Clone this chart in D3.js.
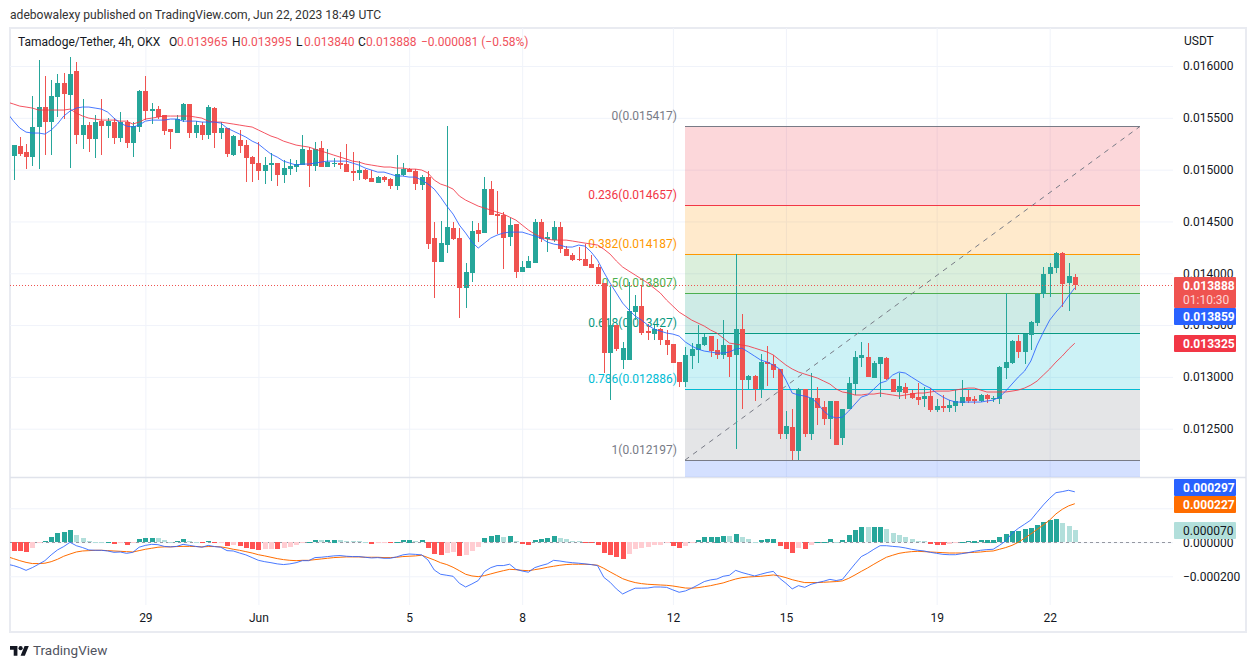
<!DOCTYPE html>
<html>
<head>
<meta charset="utf-8">
<script src="https://cdnjs.cloudflare.com/ajax/libs/d3/7.8.5/d3.min.js"></script>
<style>
  html, body { margin: 0; background: #fff; }
  svg text { font-family: Roboto, "Liberation Sans", sans-serif; fill: #131722; }
</style>
</head>
<body>
<div id="app"></div>
<script>
// prices and macd are in millionths of USDT (13888 = 0.013888)
const opens = [15131,15227,15169,15121,15411,15604,15459,15700,15835,15719,15951,15333,15430,15295,15468,15420,15459,15304,15459,15256,
  15411,15758,15565,15584,15526,15391,15353,15478,15633,15353,15430,15333,15594,15353,15401,15140,15285,15237,15121,15063,
  14986,15044,15063,14947,15005,15025,15044,15189,15034,15208,15025,15054,15063,15054,14986,14967,14996,14918,14870,14928,
  14909,14841,14947,15005,14986,14851,14928,14340,14108,14272,14436,14340,13857,14002,14417,14388,14812,14571,14561,14349,
  14475,14011,14050,14098,14494,14330,14320,14446,14233,14175,14137,14137,14089,14060,13905,13230,13500,13162,13162,13625,
  13683,13442,13413,13461,13355,13317,13143,12950,13201,13259,13307,13394,13259,13211,13307,13211,13461,12969,13008,12883,
  13143,13124,13076,12448,12516,12284,12883,12448,12796,12709,12593,12767,12410,12690,12931,13182,13191,12989,13124,13182,
  12979,12854,12902,12844,12805,12786,12815,12680,12718,12699,12718,12748,12805,12786,12767,12825,12786,12786,13085,13133,
  13346,13240,13404,13519,13799,13992,14050,14195,13905,13965];
const highs = [15237,15314,15247,15710,16057,15903,15864,15922,15932,16086,16038,15681,15459,15526,15681,15497,15497,15555,15478,15459,
  15768,15903,15642,15613,15526,15391,15526,15642,15633,15468,15459,15623,15604,15459,15401,15333,15382,15285,15131,15266,
  15121,15160,15063,15092,15102,15092,15333,15218,15266,15275,15198,15111,15169,15247,15169,15082,15005,14996,14938,14938,
  14918,15140,15063,15015,15005,14947,14986,14494,14504,15420,14494,14436,14098,14504,14484,14928,14890,14793,14590,14532,
  14475,14118,14166,14523,14523,14397,14504,14494,14262,14195,14253,14282,14175,14089,13905,13867,13500,13336,13915,13790,
  13886,13510,13500,13471,13452,13317,13143,13288,13326,13500,13413,13394,13365,13548,13307,14185,13606,13018,13018,13220,
  13297,13211,13076,12670,12690,12892,12883,13037,12902,12767,12767,12767,12690,12998,13249,13336,13326,13153,13191,13191,
  12979,13037,12940,12873,12940,12902,12892,12786,12825,12776,12873,12969,12873,12815,12834,12834,12815,13105,13809,13355,
  13404,13413,13539,13809,14060,14098,14204,14204,14098,13995];
const lows = [14899,15131,15005,15034,15005,15140,15140,15507,15488,15015,15247,15198,15169,15111,15140,15304,15247,15266,15208,15121,
  15362,15478,15440,15488,15333,15198,15353,15459,15304,15304,15285,15295,15208,15295,15121,15131,15160,14880,14880,14899,
  14861,14890,14841,14870,14947,14976,15044,14832,14986,15025,15025,15025,15005,14976,14890,14899,14899,14880,14870,14880,
  14812,14803,14938,14976,14803,14803,14233,13761,14108,14195,14320,13568,13664,13915,14301,14388,14561,14378,14040,14262,
  13954,14011,14050,14098,14301,14204,14301,14195,14166,14118,14118,14069,14050,13896,13037,12776,13249,13076,13162,13548,
  13404,13355,13355,13307,13211,13133,12902,12902,13076,13133,13297,13191,13172,13172,12998,12304,12690,12883,12767,12796,
  12911,12989,12400,12400,12198,12198,12419,12390,12535,12535,12400,12342,12342,12690,12825,13095,12998,12989,12805,12969,
  12854,12786,12786,12786,12728,12709,12661,12661,12661,12661,12661,12718,12748,12738,12757,12748,12757,12738,12979,13124,
  13182,13124,13259,13490,13761,13770,14002,13674,13635,13840];
const closes = [15237,15150,15121,15411,15604,15459,15710,15835,15729,15922,15333,15430,15295,15459,15420,15468,15304,15459,15256,15420,
  15758,15565,15584,15507,15372,15362,15488,15633,15353,15430,15333,15604,15353,15401,15150,15324,15227,15111,15054,14986,
  15044,15063,14947,15015,15034,15054,15198,15034,15198,15025,15073,15063,15044,14976,14967,14996,14909,14880,14928,14899,
  14841,14957,15005,14976,14861,14928,14282,14108,14291,14446,14330,13857,14011,14407,14378,14812,14561,14552,14340,14465,
  14011,14060,14118,14494,14330,14349,14446,14233,14166,14127,14127,14069,14050,13896,13230,13500,13268,13278,13635,13683,
  13423,13423,13461,13355,13307,13133,12950,13211,13268,13317,13384,13249,13211,13307,13191,13461,12969,13008,12883,13143,
  13124,13066,12448,12525,12284,12883,12448,12796,12699,12593,12767,12342,12690,12940,13191,13211,12998,13133,13191,12979,
  12854,12911,12844,12796,12776,12815,12680,12718,12699,12728,12767,12805,12767,12767,12825,12786,12796,13095,13143,13346,
  13240,13413,13529,13799,13992,14060,14195,13896,13973,13888];
// moving averages and macd start one candle before the first visible one
const maFast = [15546,15468,15401,15362,15353,15353,15343,15382,15440,15517,15565,15594,15604,15604,15594,15584,15555,15497,15449,15420,15411,
  15430,15468,15478,15478,15478,15488,15488,15468,15468,15468,15459,15459,15459,15449,15401,15372,15343,15314,15275,15247,
  15198,15150,15121,15082,15063,15044,15054,15054,15063,15073,15082,15082,15082,15082,15063,15044,15015,14996,14976,14976,
  14957,14938,14938,14928,14928,14899,14861,14812,14735,14648,14571,14465,14388,14301,14243,14291,14340,14368,14388,14397,
  14397,14397,14378,14359,14340,14301,14282,14272,14253,14253,14272,14262,14204,14127,14011,13905,13809,13712,13645,13587,
  13548,13500,13461,13442,13423,13413,13394,13336,13297,13268,13249,13240,13230,13230,13240,13268,13278,13240,13201,13162,
  13143,13114,13076,12969,12844,12825,12815,12796,12748,12670,12622,12603,12612,12670,12738,12805,12825,12883,12940,12960,
  13018,13047,13037,12998,12960,12921,12892,12844,12805,12776,12757,12757,12757,12757,12757,12767,12776,12805,12863,12931,
  12998,13056,13153,13307,13433,13548,13625,13693,13780,13859];
const maSlow = [15652,15633,15613,15604,15594,15575,15575,15575,15575,15575,15584,15546,15517,15497,15488,15478,15478,15478,15468,15468,15440,
  15459,15488,15497,15507,15517,15517,15517,15517,15517,15507,15497,15468,15459,15459,15449,15440,15430,15420,15411,15382,
  15353,15324,15304,15275,15256,15237,15227,15218,15198,15179,15160,15140,15121,15102,15082,15073,15054,15044,15034,15025,
  15025,15015,15015,15005,15005,14996,14967,14899,14861,14841,14812,14745,14706,14677,14648,14629,14610,14590,14571,14542,
  14513,14465,14417,14378,14349,14330,14320,14320,14320,14311,14301,14291,14282,14272,14233,14185,14118,14060,14021,13983,
  13944,13905,13857,13809,13741,13683,13625,13587,13548,13519,13490,13452,13423,13375,13326,13317,13307,13297,13278,13259,
  13240,13211,13162,13114,13076,13047,13027,13008,12989,12960,12931,12883,12854,12844,12825,12825,12834,12834,12844,12834,
  12825,12815,12825,12834,12844,12844,12854,12863,12863,12863,12873,12883,12892,12892,12873,12854,12854,12854,12854,12863,
  12873,12892,12921,12960,13018,13076,13143,13201,13268,13325];
const macdLine = [-129,-137,-149,-165,-149,-129,-108,-74,-45,-25,0,-20,-31,-45,-47,-47,-51,-59,-57,-65,-59,
  -29,-18,-12,-14,-24,-27,-24,-12,-18,-24,-29,-18,-25,-29,-49,-51,-63,-74,-90,-106,
  -114,-120,-127,-131,-127,-120,-108,-108,-90,-88,-84,-80,-78,-82,-84,-84,-88,-92,-90,-94,
  -94,-86,-74,-69,-71,-74,-104,-163,-188,-194,-200,-241,-263,-245,-225,-172,-149,-137,-137,-129,
  -159,-169,-176,-149,-137,-127,-106,-110,-116,-120,-123,-127,-131,-137,-206,-235,-274,-304,-286,-270,
  -270,-269,-263,-263,-265,-280,-294,-286,-270,-251,-231,-221,-216,-200,-194,-165,-178,-188,-198,-188,
  -178,-171,-212,-241,-274,-255,-265,-247,-237,-229,-218,-225,-218,-172,-127,-84,-65,-41,-20,-20,
  -24,-27,-33,-41,-47,-51,-59,-65,-71,-73,-73,-67,-61,-53,-47,-43,-41,-18,8,53,
  82,106,131,176,220,259,292,298,306,297];
const macdSignal = [-84,-96,-108,-118,-125,-125,-123,-114,-100,-82,-69,-57,-51,-49,-47,-47,-49,-51,-53,-55,-57,
  -49,-41,-35,-29,-27,-27,-25,-24,-24,-25,-27,-25,-25,-27,-33,-41,-47,-55,-63,-73,
  -80,-88,-96,-102,-106,-108,-106,-106,-102,-98,-94,-90,-88,-86,-86,-86,-88,-88,-88,-90,
  -90,-88,-84,-82,-80,-76,-90,-104,-120,-131,-147,-167,-188,-198,-202,-196,-186,-176,-167,-159,
  -161,-165,-167,-161,-155,-147,-141,-135,-131,-129,-129,-129,-131,-135,-153,-174,-194,-214,-227,-237,
  -243,-247,-249,-251,-253,-257,-263,-269,-270,-267,-261,-255,-247,-239,-227,-216,-208,-204,-202,-200,
  -196,-192,-198,-208,-220,-229,-237,-237,-237,-235,-233,-231,-227,-212,-192,-171,-151,-129,-108,-88,
  -76,-65,-59,-55,-53,-55,-57,-59,-61,-63,-63,-63,-61,-59,-57,-53,-51,-41,-31,-18,
  0,24,49,76,102,131,167,194,214,227];
const macdHist = [-51,-52,-57,-33,-2,8,31,53,61,73,43,25,8,3,2,4,-10,-4,-16,-4,
  20,25,26,25,14,2,8,20,8,3,-8,8,-4,-3,-22,-20,-23,-33,-40,-45,
  -44,-40,-41,-33,-27,-16,-1,2,14,13,14,15,13,8,7,6,2,-10,-4,-3,
  -8,2,14,15,8,13,-33,-68,-74,-62,-57,-80,-79,-50,-27,25,37,43,31,37,
  8,-10,-16,14,20,25,37,25,19,8,7,-3,-7,-16,-62,-74,-86,-98,-68,-40,
  -33,-27,-16,-15,-8,-22,-33,-22,-2,14,31,32,33,37,36,49,31,20,2,14,
  20,21,-22,-40,-62,-33,-40,-16,2,3,20,2,14,43,73,90,89,90,91,78,
  55,43,31,20,8,7,-10,-16,-17,-12,-8,4,8,9,14,15,16,31,49,67,
  68,78,84,102,120,131,137,114,96,70];

const priceTicks = [16000,15500,15000,14500,14000,13500,13000,12500];
const macdTicks = [200,0,-200];
const timeTicks = [21,39,63,81,105,123,147,165];
const timeLabels = ['29','Jun','5','8','12','15','19','22'];
const fibRatios = ['0','0.236','0.382','0.5','0.618','0.786','1'];
const fibPrices = [15417,14657,14187,13807,13427,12886,12197];
const fibColors = ['#787b86','#f23645','#ff9800','#4caf50','#089981','#00bcd4','#787b86'];
const fibFrom = 107;
const fibTo = 179.4;
const lastPrice = 13888;

const width = 1256;
const height = 668;
const paneLeft = 10;
const paneRight = 1173;
const fmt = v => (v < 0 ? '\u2212' : '') + (Math.abs(v) / 1e6).toFixed(6);

const svg = d3.select('#app').append('svg')
  .attr('width', width)
  .attr('height', height)
  .style('display', 'block');

const x = d3.scaleLinear().domain([0, 169]).range([13.5, 1074.8]);
const y = d3.scaleLinear().domain([16000, 12500]).range([66, 428.7]);
const yMacd = d3.scaleLinear().domain([0, -200]).range([542.3, 576.3]);

svg.append('defs').append('clipPath').attr('id', 'main')
  .append('rect').attr('x', paneLeft).attr('y', 28).attr('width', paneRight - paneLeft).attr('height', 449);

// frame
svg.append('rect')
  .attr('x', 10).attr('y', 28).attr('width', 1236).attr('height', 604)
  .attr('fill', 'none').attr('stroke', '#e9ebf1').attr('stroke-width', 2);

// grids and axes
const gridColor = '#f0f3fa';
const axisText = sel => {
  sel.select('.domain').remove();
  sel.selectAll('line').attr('stroke', gridColor);
  sel.selectAll('text').attr('font-size', 12);
};

svg.append('g')
  .attr('transform', 'translate(0,605)')
  .call(d3.axisBottom(x).tickValues(timeTicks).tickFormat((d, i) => timeLabels[i])
    .tickSizeInner(-577).tickPadding(8.5))
  .call(axisText);

svg.append('g')
  .attr('transform', `translate(${paneRight},0)`)
  .call(d3.axisRight(y).tickValues(priceTicks).tickFormat(fmt)
    .tickSizeInner(-(paneRight - paneLeft)).tickPadding(10))
  .call(axisText);

// the 0.000200 label sits fully behind the signal badge, only its grid line shows
svg.append('g')
  .attr('transform', `translate(${paneRight},0)`)
  .call(d3.axisRight(yMacd).tickValues(macdTicks).tickFormat(d => d === 200 ? '' : fmt(d))
    .tickSizeInner(-(paneRight - paneLeft)).tickPadding(10))
  .call(axisText);

svg.append('line')
  .attr('x1', 10).attr('x2', 1246).attr('y1', 477.5).attr('y2', 477.5)
  .attr('stroke', '#e0e3eb').attr('stroke-width', 1.5);

// fib retracement
const main = svg.append('g').attr('clip-path', 'url(#main)');
const fibX0 = Math.round(x(fibFrom));
const fibX1 = Math.round(x(fibTo));

main.selectAll('rect.band')
  .data(fibPrices)
  .enter().append('rect')
  .attr('class', 'band')
  .attr('x', fibX0)
  .attr('width', fibX1 - fibX0)
  .attr('y', d => y(d))
  .attr('height', (d, i) => i < fibPrices.length - 1 ? y(fibPrices[i + 1]) - y(d) : 477 - y(d))
  .attr('fill', (d, i) => i < fibPrices.length - 1 ? fibColors[i + 1] : '#2962ff')
  .attr('fill-opacity', 0.2);

main.selectAll('line.fib')
  .data(fibPrices)
  .enter().append('line')
  .attr('class', 'fib')
  .attr('x1', fibX0)
  .attr('x2', fibX1)
  .attr('y1', d => Math.round(y(d)) + 0.5)
  .attr('y2', d => Math.round(y(d)) + 0.5)
  .attr('stroke', (d, i) => fibColors[i]);

main.append('line')
  .attr('x1', fibX0).attr('y1', y(fibPrices[6]))
  .attr('x2', fibX1).attr('y2', y(fibPrices[0]))
  .attr('stroke', '#787b86')
  .attr('stroke-dasharray', '5 5');

main.selectAll('text.fib')
  .data(fibPrices)
  .enter().append('text')
  .attr('class', 'fib')
  .attr('x', fibX0 - 8)
  .attr('y', d => y(d) - 6)
  .attr('text-anchor', 'end')
  .attr('font-size', 12)
  .style('fill', (d, i) => fibColors[i])
  .text((d, i) => `${fibRatios[i]}(${fmt(d)})`);

// candles
const upColor = '#26a69a';
const downColor = '#ef5350';
const color = i => closes[i] >= opens[i] ? upColor : downColor;
const candles = main.selectAll('g.candle')
  .data(opens)
  .enter().append('g')
  .attr('class', 'candle');

candles.append('rect')
  .attr('x', (d, i) => Math.round(x(i)))
  .attr('width', 1)
  .attr('y', (d, i) => Math.round(y(highs[i])))
  .attr('height', (d, i) => Math.round(y(lows[i])) - Math.round(y(highs[i])))
  .attr('fill', (d, i) => color(i));

candles.append('rect')
  .attr('x', (d, i) => Math.round(x(i)) - 2)
  .attr('width', 5)
  .attr('y', (d, i) => Math.round(y(Math.max(d, closes[i]))))
  .attr('height', (d, i) => Math.max(1, Math.round(y(Math.min(d, closes[i]))) - Math.round(y(Math.max(d, closes[i])))))
  .attr('fill', (d, i) => color(i));

// moving averages, first value sits one candle left of the first candle
const priceLine = d3.line().x((d, i) => x(i - 1)).y(d => y(d));
main.append('path').attr('d', priceLine(maSlow)).attr('fill', 'none').attr('stroke', '#f23645').attr('stroke-opacity', 0.85);
main.append('path').attr('d', priceLine(maFast)).attr('fill', 'none').attr('stroke', '#2962ff').attr('stroke-opacity', 0.85);

main.append('line')
  .attr('x1', paneLeft).attr('x2', paneRight)
  .attr('y1', Math.round(y(lastPrice)) + 0.5).attr('y2', Math.round(y(lastPrice)) + 0.5)
  .attr('stroke', downColor)
  .attr('stroke-dasharray', '1 2');

// macd pane
svg.append('clipPath').attr('id', 'lower')
  .append('rect').attr('x', paneLeft).attr('y', 478).attr('width', paneRight - paneLeft).attr('height', 127);
const lower = svg.append('g').attr('clip-path', 'url(#lower)');

lower.append('line')
  .attr('x1', paneLeft).attr('x2', paneRight)
  .attr('y1', 542.5).attr('y2', 542.5)
  .attr('stroke', '#9598a1')
  .attr('stroke-dasharray', '3 3');

const histColor = (d, i) => {
  const rising = i > 0 && d > macdHist[i - 1];
  if (d >= 0) return rising ? '#26a69a' : '#b2dfdb';
  return rising ? '#ffcdd2' : '#ff5252';
};
lower.selectAll('rect.hist')
  .data(macdHist)
  .enter().append('rect')
  .attr('class', 'hist')
  .attr('x', (d, i) => Math.round(x(i)) - 2)
  .attr('width', 5)
  .attr('y', d => Math.round(Math.min(yMacd(d), yMacd(0))))
  .attr('height', d => Math.max(1, Math.round(Math.abs(yMacd(d) - yMacd(0)))))
  .attr('fill', histColor);

const macdPath = d3.line().x((d, i) => x(i - 1)).y(d => yMacd(d));
lower.append('path').attr('d', macdPath(macdSignal)).attr('fill', 'none').attr('stroke', '#ff6d00');
lower.append('path').attr('d', macdPath(macdLine)).attr('fill', 'none').attr('stroke', '#2962ff').attr('stroke-opacity', 0.85);

// price labels on the right
const badge = (top, h, fill, label, textFill, bold) => {
  svg.append('rect').attr('x', 1174).attr('y', top).attr('width', 62).attr('height', h).attr('rx', 1).attr('fill', fill);
  svg.append('text').attr('x', 1183).attr('y', top + 13)
    .attr('font-size', 12).attr('font-weight', bold ? 700 : 400)
    .style('fill', textFill).text(label);
};
badge(277, 31, '#ef5350', fmt(lastPrice), '#fff', true);
svg.append('text').attr('x', 1183).attr('y', 304).attr('font-size', 12).style('fill', '#fbd5d4').text('01:10:30');
badge(308, 17, '#2962ff', fmt(maFast[maFast.length - 1]), '#fff', true);
badge(335, 17, '#f23645', fmt(maSlow[maSlow.length - 1]), '#fff', true);
badge(479, 17, '#2962ff', fmt(macdLine[macdLine.length - 1]), '#fff', true);
badge(496, 17, '#ff6d00', fmt(macdSignal[macdSignal.length - 1]), '#fff', true);
badge(522, 17, '#b2dfdb', fmt(macdHist[macdHist.length - 1]), '#131722', false);

svg.append('text').attr('x', 1184).attr('y', 45).attr('font-size', 12).text('USDT');

// header, legend, footer
svg.append('text').attr('x', 10).attr('y', 19).attr('font-size', 12.1).style('fill', '#333')
  .text('adebowalexy published on TradingView.com, Jun 22, 2023 18:49 UTC');

const legendY = 46;
const legendRed = '#f0525c';
svg.append('text').attr('x', 18).attr('y', legendY).attr('font-size', 12).text('Tamadoge/Tether, 4h, OKX');
[['O', 169, 177, opens], ['H', 232, 241, highs], ['L', 296, 304, lows], ['C', 358, 366, closes]].forEach(([k, kx, vx, arr]) => {
  svg.append('text').attr('x', kx).attr('y', legendY).attr('font-size', 12).text(k);
  svg.append('text').attr('x', vx).attr('y', legendY).attr('font-size', 12).style('fill', legendRed)
    .text(fmt(arr[arr.length - 1]));
});
svg.append('text').attr('x', 421).attr('y', legendY).attr('font-size', 12).style('fill', legendRed)
  .text(`${fmt(closes[169] - opens[169] - 4)} (\u22120.58%)`);

svg.append('path')
  .attr('transform', 'translate(10,644) scale(0.53)')
  .attr('fill', '#131722')
  .attr('d', 'M14 22H7V11H0V4h14v18zM28 22h-8l7.5-18h8L28 22z');
svg.append('circle')
  .attr('transform', 'translate(10,644) scale(0.53)')
  .attr('cx', 20).attr('cy', 8).attr('r', 4).attr('fill', '#131722');
svg.append('text').attr('x', 33).attr('y', 655).attr('font-size', 13.5).style('fill', '#50535e').text('TradingView');
</script>
</body>
</html>
